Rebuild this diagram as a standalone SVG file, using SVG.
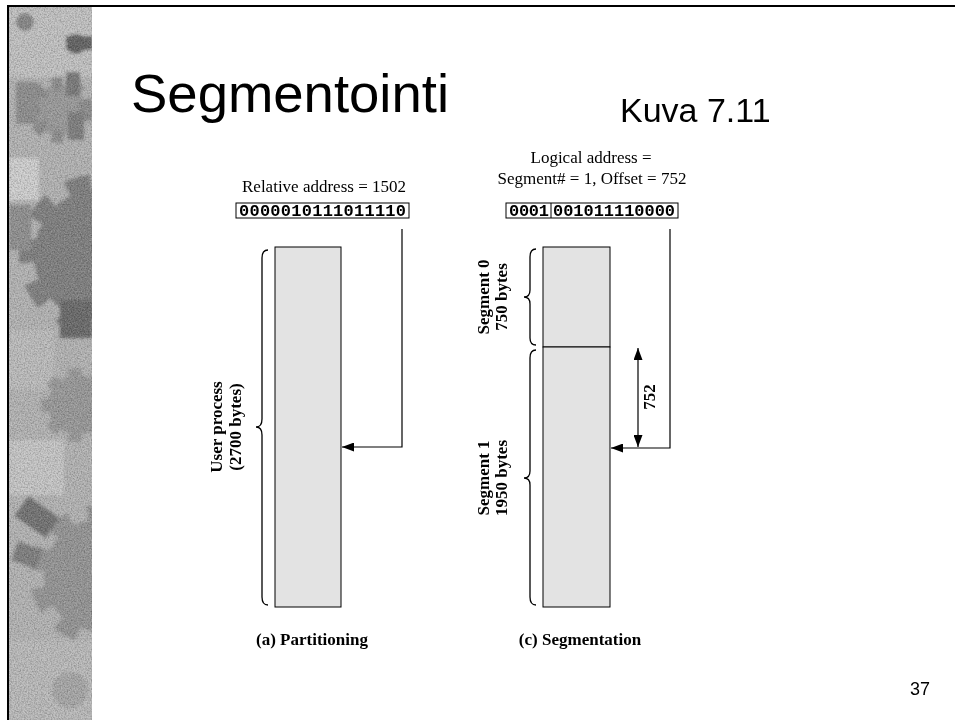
<svg xmlns="http://www.w3.org/2000/svg" width="955" height="720" viewBox="0 0 955 720">
<style>
  .title { font-family: "Liberation Sans", Arial, sans-serif; fill: #000; }
  .serif { font-family: "Liberation Serif", "Times New Roman", serif; font-size: 17px; fill: #000; }
  .b { font-weight: bold; }
  .mono { font-family: "Liberation Mono", "Courier New", monospace; font-weight: bold; font-size: 17px; fill: #000; }
  .box { fill: #fff; stroke: #000; stroke-width: 1; }
  .mem { fill: #e3e3e3; stroke: #000; stroke-width: 1; }
  .conn { fill: none; stroke: #000; stroke-width: 1.2; }
  .brace { fill: none; stroke: #000; stroke-width: 1.3; }
</style>
<defs>
  <marker id="ah" viewBox="0 0 12 9" refX="12" refY="4.5" markerWidth="12" markerHeight="9" markerUnits="userSpaceOnUse" orient="auto-start-reverse">
    <path d="M0,0 L12,4.5 L0,9 z" fill="#000"/>
  </marker>
  <clipPath id="stripClip"><rect x="9" y="7" width="83" height="713"/></clipPath>
  <filter id="soft" x="-10%" y="-10%" width="120%" height="120%">
    <feGaussianBlur stdDeviation="1.4"/>
  </filter>
  <filter id="noise" x="0" y="0" width="100%" height="100%">
    <feTurbulence type="fractalNoise" baseFrequency="0.7" numOctaves="2" seed="3"/>
    <feColorMatrix type="matrix" values="0 0 0 0 0  0 0 0 0 0  0 0 0 0 0  0.5 0 0 0 -0.18"/>
  </filter>
  <filter id="noise2" x="0" y="0" width="100%" height="100%">
    <feTurbulence type="fractalNoise" baseFrequency="0.7" numOctaves="2" seed="7"/>
    <feColorMatrix type="matrix" values="0 0 0 0 1  0 0 0 0 1  0 0 0 0 1  0.45 0 0 0 -0.15"/>
  </filter>
</defs>

<rect x="0" y="0" width="955" height="720" fill="#fff"/>

<!-- decorative strip (gear texture) -->
<g id="strip" clip-path="url(#stripClip)">
  <rect x="9" y="7" width="83" height="713" fill="#b3b3b3"/>
  <g filter="url(#soft)">
    <rect x="9" y="7" width="83" height="70" fill="#c2c2c2"/>
    <circle cx="25" cy="22" r="9" fill="#858585"/>
    <circle cx="76" cy="44" r="10" fill="#5e5e5e"/>
    <rect x="66" y="36" width="26" height="14" fill="#5e5e5e"/>
    <g transform="translate(60,110)">
      <circle r="26" fill="#999" stroke="#8a8a8a" stroke-width="14" stroke-dasharray="10 9"/>
    </g>
    <rect x="16" y="82" width="22" height="42" fill="#8c8c8c"/>
    <rect x="66" y="72" width="14" height="24" fill="#777"/>
    <rect x="68" y="112" width="16" height="28" fill="#7c7c7c"/>
    <g transform="translate(100,255)">
      <circle r="66" fill="#7d7d7d" stroke="#7d7d7d" stroke-width="30" stroke-dasharray="22 18"/>
    </g>
    <rect x="9" y="158" width="30" height="42" fill="#d0d0d0"/>
    <rect x="9" y="205" width="22" height="45" fill="#8e8e8e"/>
    <rect x="60" y="300" width="32" height="38" fill="#666"/>
    <rect x="9" y="330" width="45" height="60" fill="#bcbcbc"/>
    <g transform="translate(78,405)">
      <circle r="30" fill="#979797" stroke="#979797" stroke-width="14" stroke-dasharray="12 10"/>
    </g>
    <rect x="9" y="440" width="55" height="55" fill="#c6c6c6"/>
    <g transform="translate(100,575)">
      <circle r="56" fill="#939393" stroke="#939393" stroke-width="28" stroke-dasharray="20 16"/>
    </g>
    <rect x="18" y="505" width="38" height="24" fill="#707070" transform="rotate(35 37 517)"/>
    <rect x="14" y="545" width="26" height="20" fill="#7c7c7c" transform="rotate(20 27 555)"/>
    <rect x="9" y="640" width="83" height="80" fill="#bababa"/>
    <circle cx="70" cy="690" r="18" fill="#a6a6a6"/>
  </g>
  <rect x="9" y="7" width="83" height="713" filter="url(#noise)"/>
  <rect x="9" y="7" width="83" height="713" filter="url(#noise2)"/>
</g>

<!-- slide border -->
<g id="border">
  <line x1="8" y1="6" x2="955" y2="6" stroke="#000" stroke-width="2"/>
  <line x1="8" y1="5" x2="8" y2="720" stroke="#000" stroke-width="2"/>
</g>

<!-- titles -->
<g id="title">
  <text class="title" x="131" y="112" font-size="53" textLength="318" lengthAdjust="spacingAndGlyphs">Segmentointi</text>
</g>
<g id="subtitle">
  <text class="title" x="620" y="122" font-size="34">Kuva 7.11</text>
</g>

<!-- (a) Partitioning -->
<g id="relative-address">
  <text class="serif" x="324" y="192" text-anchor="middle">Relative address = 1502</text>
  <rect class="box" x="236" y="203" width="173" height="15"/>
  <text class="mono" x="239" y="216" textLength="167" lengthAdjust="spacing">0000010111011110</text>
</g>
<g id="user-process">
  <rect class="mem" x="275" y="247" width="66" height="360"/>
  <path class="brace" d="M268,250 Q262,250 262,258 L262,419 Q262,427 256,427 Q262,427 262,435 L262,597 Q262,605 268,605"/>
  <text class="serif b" transform="translate(222,427) rotate(-90)" text-anchor="middle">User process</text>
  <text class="serif b" transform="translate(241,427) rotate(-90)" text-anchor="middle">(2700 bytes)</text>
</g>
<g id="label-a">
  <text class="serif b" x="312" y="645" text-anchor="middle">(a) Partitioning</text>
</g>

<!-- (c) Segmentation -->
<g id="logical-address">
  <text class="serif" x="591" y="163" text-anchor="middle">Logical address =</text>
  <text class="serif" x="592" y="184" text-anchor="middle">Segment# = 1, Offset = 752</text>
  <rect class="box" x="506" y="203" width="172" height="15"/>
  <line x1="551" y1="203" x2="551" y2="218" stroke="#000" stroke-width="1"/>
  <text class="mono" x="509" y="216" textLength="40" lengthAdjust="spacing">0001</text>
  <text class="mono" x="553" y="216" textLength="122" lengthAdjust="spacing">001011110000</text>
</g>
<g id="segment-0">
  <rect class="mem" x="543" y="247" width="67" height="100"/>
  <path class="brace" d="M536,249 Q530,249 530,257 L530,290 Q530,297 524,297 Q530,297 530,304 L530,338 Q530,345 536,345"/>
  <text class="serif b" transform="translate(489,297) rotate(-90)" text-anchor="middle">Segment 0</text>
  <text class="serif b" transform="translate(507,297) rotate(-90)" text-anchor="middle">750 bytes</text>
</g>
<g id="segment-1">
  <rect class="mem" x="543" y="347" width="67" height="260"/>
  <path class="brace" d="M536,350 Q530,350 530,358 L530,471 Q530,478 524,478 Q530,478 530,485 L530,597 Q530,605 536,605"/>
  <text class="serif b" transform="translate(489,478) rotate(-90)" text-anchor="middle">Segment 1</text>
  <text class="serif b" transform="translate(507,478) rotate(-90)" text-anchor="middle">1950 bytes</text>
</g>
<g id="label-c">
  <text class="serif b" x="580" y="645" text-anchor="middle">(c) Segmentation</text>
</g>

<!-- connectors -->
<g id="connectors">
  <path class="conn" d="M402,229 V447 H342" marker-end="url(#ah)"/>
  <path class="conn" d="M670,229 V448 H611" marker-end="url(#ah)"/>
  <path class="conn" d="M638,348 V447" marker-start="url(#ah)" marker-end="url(#ah)"/>
  <text class="serif b" transform="translate(655,397) rotate(-90)" text-anchor="middle">752</text>
</g>

<g id="page-number">
  <text x="910" y="695" font-family="'Liberation Sans Narrow', 'Liberation Sans', Arial, sans-serif" font-size="18" fill="#000">37</text>
</g>
</svg>
